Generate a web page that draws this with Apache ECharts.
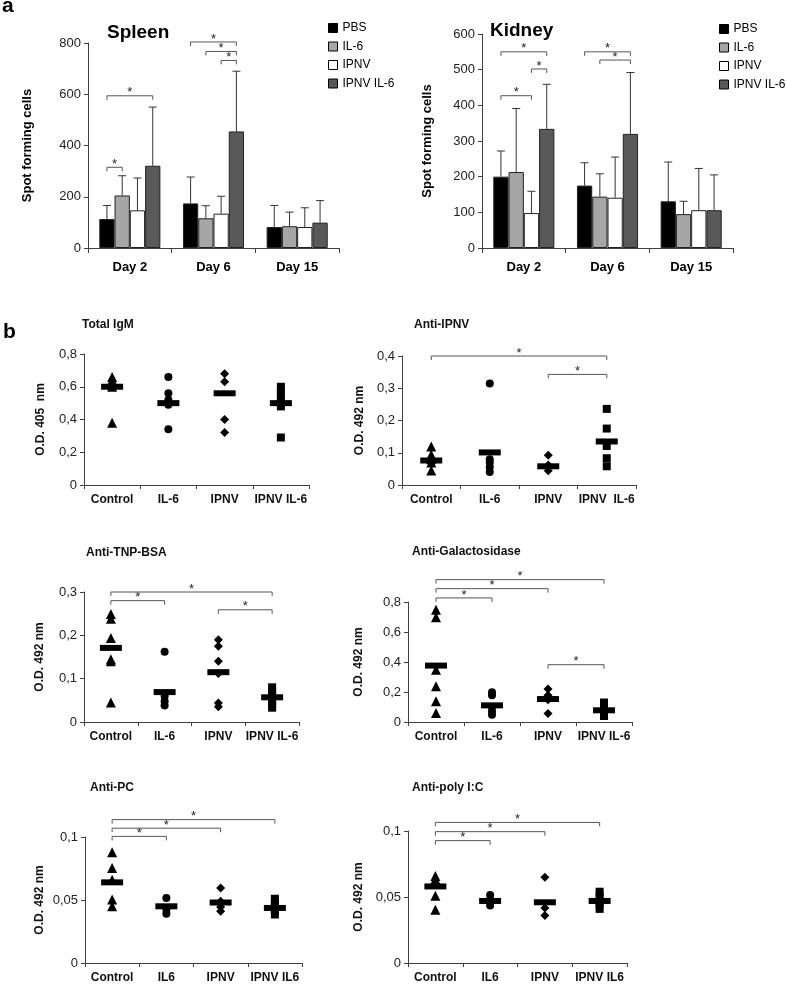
<!DOCTYPE html>
<html><head><meta charset="utf-8">
<script src="https://cdn.jsdelivr.net/npm/echarts@6/dist/echarts.min.js"></script>
<style>html,body{margin:0;padding:0;background:#fff}#c{width:787px;height:985px}</style>
</head><body><div id="c"></div>
<script>
// ---------- Panel a data ----------
const days = ['Day 2', 'Day 6', 'Day 15'];
const groupNames = ['PBS', 'IL-6', 'IPNV', 'IPNV IL-6'];
const spleenTicks = [0, 200, 400, 600, 800];
const kidneyTicks = [0, 100, 200, 300, 400, 500, 600];

const spleenPBS = [113, 174, 82];
const spleenIL6 = [205, 116, 85];
const spleenIPNV = [147, 134, 82];
const spleenIPNVIL6 = [321, 455, 99];
const spleenPBSErr = [166, 277, 166];
const spleenIL6Err = [282, 165, 140];
const spleenIPNVErr = [273, 202, 157];
const spleenIPNVIL6Err = [550, 690, 185];
// [day, group1, group2, height]
const spleenSig = [[0, 0, 1, 315], [0, 0, 3, 594], [1, 0, 3, 804], [1, 1, 3, 767], [1, 2, 3, 732]];

const kidneyPBS = [200, 175, 131];
const kidneyIL6 = [213, 144, 95];
const kidneyIPNV = [98, 141, 106];
const kidneyIPNVIL6 = [334, 320, 106];
const kidneyPBSErr = [272, 239, 241];
const kidneyIL6Err = [391, 208, 131];
const kidneyIPNVErr = [159, 255, 223];
const kidneyIPNVIL6Err = [459, 492, 205];
const kidneySig = [[0, 0, 3, 550], [0, 2, 3, 502], [0, 0, 2, 427], [1, 0, 3, 550], [1, 1, 3, 527]];

// ---------- Panel b data ----------
const catsB = ['Control', 'IL-6', 'IPNV', 'IPNV IL-6'];
const catsB2 = ['Control', 'IL-6', 'IPNV', 'IPNV  IL-6'];
const catsB3 = ['Control', 'IL6', 'IPNV', 'IPNV IL6'];

const igmControl = [0.66, 0.64, 0.60, 0.38];
const igmIL6 = [0.66, 0.56, 0.52, 0.49, 0.34];
const igmIPNV = [0.68, 0.63, 0.40, 0.32];
const igmIPNVIL6 = [0.60, 0.57, 0.54, 0.50, 0.48, 0.29];
const igmMean = [0.60, 0.50, 0.56, 0.50];
const igmSig = [];

const ipnvControl = [0.119, 0.094, 0.08, 0.07, 0.045];
const ipnvIL6 = [0.315, 0.08, 0.07, 0.055, 0.04];
const ipnvIPNV = [0.092, 0.062, 0.055, 0.044];
const ipnvIPNVIL6 = [0.236, 0.175, 0.121, 0.083, 0.058];
const ipnvMean = [0.076, 0.101, 0.058, 0.135];
const ipnvSig = [[0, 3, 0.4], [2, 3, 0.343]];

const tnpControl = [0.249, 0.238, 0.194, 0.145, 0.14, 0.045];
const tnpIL6 = [0.162, 0.06, 0.048, 0.038];
const tnpIPNV = [0.19, 0.175, 0.14, 0.112, 0.044, 0.035];
const tnpIPNVIL6 = [0.08, 0.07, 0.06, 0.05, 0.04, 0.033];
const tnpMean = [0.171, 0.069, 0.115, 0.057];
const tnpSig = [[0, 3, 0.30], [0, 1, 0.28], [2, 3, 0.259]];

const galControl = [0.749, 0.698, 0.349, 0.238, 0.138, 0.06];
const galIL6 = [0.198, 0.178, 0.10, 0.071, 0.049];
const galIPNV = [0.22, 0.178, 0.149, 0.056];
const galIPNVIL6 = [0.13, 0.11, 0.09, 0.07, 0.05, 0.04];
const galMean = [0.376, 0.111, 0.153, 0.078];
const galSig = [[0, 3, 0.949], [0, 2, 0.889], [0, 1, 0.827], [2, 3, 0.382]];

const pcControl = [0.0878, 0.0754, 0.066, 0.0503, 0.045];
const pcIL6 = [0.0516, 0.0423, 0.039];
const pcIPNV = [0.0595, 0.049, 0.0444, 0.041];
const pcIPNVIL6 = [0.051, 0.048, 0.045, 0.042, 0.0385];
const pcMean = [0.064, 0.045, 0.048, 0.0437];
const pcSig = [[0, 3, 0.1138], [0, 2, 0.107], [0, 1, 0.1005]];

const polyControl = [0.066, 0.0635, 0.051, 0.0403];
const polyIL6 = [0.0516, 0.048, 0.0436];
const polyIPNV = [0.065, 0.0416, 0.036];
const polyIPNVIL6 = [0.054, 0.051, 0.047, 0.044, 0.041];
const polyMean = [0.058, 0.047, 0.046, 0.047];
const polySig = [[0, 3, 0.1065], [0, 2, 0.0995], [0, 1, 0.0927]];

// ---------- build ----------
const FONT = '"Liberation Sans", Arial, sans-serif';
const AX = '#404040';
const GAP = 0.27;
const barColors = ['#000000', '#a6a6a6', '#ffffff', '#595959'];

function barX(api, cat, s) {
  const band = api.size([1, 0])[0];
  const gw = band * (1 - GAP);
  const c = api.coord([cat, 0])[0];
  return c - gw / 2 + gw / 4 * (s + 0.5);
}
function errRender(params, api) {
  const cat = api.value(0), s = api.value(1), mean = api.value(2), top = api.value(3);
  const x = barX(api, cat, s);
  const y0 = api.coord([cat, mean])[1];
  const y1 = api.coord([cat, top])[1];
  return {type: 'group', children: [
    {type: 'line', shape: {x1: x, y1: y0, x2: x, y2: y1}, style: {stroke: '#333', lineWidth: 1}},
    {type: 'line', shape: {x1: x - 4, y1: y1, x2: x + 4, y2: y1}, style: {stroke: '#333', lineWidth: 1}}
  ]};
}
function bracketShapes(x1, x2, py) {
  return [
    {type: 'polyline', shape: {points: [[x1, py + 4], [x1, py], [x2, py], [x2, py + 4]]}, style: {stroke: '#555', lineWidth: 1, fill: null}},
    {type: 'text', x: (x1 + x2) / 2, y: py - 3, style: {text: '*', fontSize: 13, fontFamily: FONT, fill: '#222', align: 'center', verticalAlign: 'middle'}}
  ];
}
function sigBarRender(params, api) {
  const c = api.value(0), s1 = api.value(1), s2 = api.value(2), v = api.value(3);
  const py = api.coord([c, v])[1];
  return {type: 'group', children: bracketShapes(barX(api, c, s1), barX(api, c, s2), py)};
}
function sigCatRender(params, api) {
  const c1 = api.value(0), c2 = api.value(1), v = api.value(2);
  const p1 = api.coord([c1, v]), p2 = api.coord([c2, v]);
  return {type: 'group', children: bracketShapes(p1[0], p2[0], p1[1])};
}
function fmtComma(v) { return v === 0 ? '0' : String(+v.toFixed(3)).replace('.', ','); }

const option = {
  animation: false,
  backgroundColor: '#fff',
  textStyle: {fontFamily: FONT},
  title: [], legend: [], grid: [], xAxis: [], yAxis: [], series: []
};
option.title.push({text: 'a', left: 2, top: -4, padding: 0, textStyle: {fontSize: 21, fontWeight: 'bold', color: '#000', fontFamily: FONT}});
option.title.push({text: 'b', left: 3, top: 322, padding: 0, textStyle: {fontSize: 21, fontWeight: 'bold', color: '#000', fontFamily: FONT}});

const panelsA = [
  {title: 'Spleen', tl: 107, tt: 23, grid: {left: 88, top: 43, width: 251, height: 205}, max: 800, ticks: spleenTicks, gap: 54,
   vals: [spleenPBS, spleenIL6, spleenIPNV, spleenIPNVIL6], errs: [spleenPBSErr, spleenIL6Err, spleenIPNVErr, spleenIPNVIL6Err], sig: spleenSig, lg: [328, 22]},
  {title: 'Kidney', tl: 490, tt: 21, grid: {left: 482, top: 34, width: 251, height: 214}, max: 600, ticks: kidneyTicks, gap: 48,
   vals: [kidneyPBS, kidneyIL6, kidneyIPNV, kidneyIPNVIL6], errs: [kidneyPBSErr, kidneyIL6Err, kidneyIPNVErr, kidneyIPNVIL6Err], sig: kidneySig, lg: [719, 23]}
];
panelsA.forEach((p, k) => {
  option.title.push({text: p.title, left: p.tl, top: p.tt, padding: 0, textStyle: {fontSize: 19, fontWeight: 'bold', color: '#000', fontFamily: FONT}});
  option.grid.push(Object.assign({outerBoundsMode: 'none', containLabel: false}, p.grid));
  const gi = option.grid.length - 1;
  option.xAxis.push({gridIndex: gi, type: 'category', data: days, boundaryGap: true,
    axisLine: {lineStyle: {color: AX}}, axisTick: {show: true, length: 5, lineStyle: {color: AX}},
    axisLabel: {fontSize: 13, fontWeight: 'bold', color: '#000', margin: 13}, splitLine: {show: false}});
  option.yAxis.push({gridIndex: gi, type: 'value', min: p.ticks[0], max: p.ticks[p.ticks.length - 1], interval: p.ticks[1] - p.ticks[0],
    name: 'Spot forming cells', nameLocation: 'middle', nameGap: p.gap, nameTextStyle: {fontSize: 13, fontWeight: 'bold', color: '#000'},
    axisLine: {show: true, lineStyle: {color: AX}}, axisTick: {show: true, length: 4, lineStyle: {color: AX}},
    axisLabel: {fontSize: 13, color: '#222', margin: 7}, splitLine: {show: false}});
  groupNames.forEach((g, s) => {
    option.series.push({type: 'bar', name: g, xAxisIndex: gi, yAxisIndex: gi, data: p.vals[s],
      barGap: '0%', barCategoryGap: (GAP * 100) + '%',
      itemStyle: {color: barColors[s], borderColor: '#222', borderWidth: 1}});
  });
  const errData = [];
  p.errs.forEach((arr, s) => arr.forEach((t, c) => errData.push([c, s, p.vals[s][c], t])));
  option.series.push({type: 'custom', xAxisIndex: gi, yAxisIndex: gi, renderItem: errRender, data: errData, encode: {x: 0, y: 3}, z: 5, clip: false, silent: true});
  option.series.push({type: 'custom', xAxisIndex: gi, yAxisIndex: gi, renderItem: sigBarRender, data: p.sig, encode: {x: 0, y: 3}, z: 5, clip: false, silent: true});
  option.legend.push({left: p.lg[0], top: p.lg[1], padding: 0, orient: 'vertical', icon: 'rect', itemWidth: 9, itemHeight: 9, itemGap: 6.5,
    data: groupNames, selectedMode: false, textStyle: {fontSize: 12, color: '#000', fontFamily: FONT, overflow: 'none'},
    itemStyle: {borderColor: '#000', borderWidth: 1}});
});

const symbols = ['triangle', 'circle', 'diamond', 'rect'];
const symSizes = [10, 8, 9, 8];
const panelsB = [
  {title: 'Total IgM', tl: 82, tt: 319, grid: {left: 84, top: 354, width: 225, height: 131}, ticks: [0, 0.2, 0.4, 0.6, 0.8], yName: 'O.D. 405  nm', gap: 37,
   cats: catsB, pts: [igmControl, igmIL6, igmIPNV, igmIPNVIL6], mean: igmMean, sig: igmSig},
  {title: 'Anti-IPNV', tl: 414, tt: 319, grid: {left: 402, top: 356, width: 234, height: 129}, ticks: [0, 0.1, 0.2, 0.3, 0.4], yName: 'O.D. 492 nm', gap: 36,
   cats: catsB2, pts: [ipnvControl, ipnvIL6, ipnvIPNV, ipnvIPNVIL6], mean: ipnvMean, sig: ipnvSig},
  {title: 'Anti-TNP-BSA', tl: 86, tt: 547, grid: {left: 84, top: 592, width: 215, height: 130}, ticks: [0, 0.1, 0.2, 0.3], yName: 'O.D. 492 nm', gap: 38,
   cats: catsB, pts: [tnpControl, tnpIL6, tnpIPNV, tnpIPNVIL6], mean: tnpMean, sig: tnpSig},
  {title: 'Anti-Galactosidase', tl: 412, tt: 546, grid: {left: 408, top: 602, width: 224, height: 120}, ticks: [0, 0.2, 0.4, 0.6, 0.8], yName: 'O.D. 492 nm', gap: 43,
   cats: catsB, pts: [galControl, galIL6, galIPNV, galIPNVIL6], mean: galMean, sig: galSig},
  {title: 'Anti-PC', tl: 90, tt: 782, grid: {left: 85, top: 837, width: 217, height: 126}, ticks: [0, 0.05, 0.1], yName: 'O.D. 492 nm', gap: 39,
   cats: catsB3, pts: [pcControl, pcIL6, pcIPNV, pcIPNVIL6], mean: pcMean, sig: pcSig},
  {title: 'Anti-poly I:C', tl: 412, tt: 782, grid: {left: 408, top: 831, width: 219, height: 132}, ticks: [0, 0.05, 0.1], yName: 'O.D. 492 nm', gap: 43,
   cats: catsB3, pts: [polyControl, polyIL6, polyIPNV, polyIPNVIL6], mean: polyMean, sig: polySig}
];
panelsB.forEach(p => {
  option.title.push({text: p.title, left: p.tl, top: p.tt, padding: 0, textStyle: {fontSize: 12, fontWeight: 'bold', color: '#111', fontFamily: FONT}});
  option.grid.push(Object.assign({outerBoundsMode: 'none', containLabel: false}, p.grid));
  const gi = option.grid.length - 1;
  option.xAxis.push({gridIndex: gi, type: 'category', data: p.cats, boundaryGap: true,
    axisLine: {lineStyle: {color: AX}}, axisTick: {show: true, length: 4, lineStyle: {color: AX}},
    axisLabel: {fontSize: 12, fontWeight: 'bold', color: '#111', margin: 9, interval: 0}, splitLine: {show: false}});
  option.yAxis.push({gridIndex: gi, type: 'value', min: p.ticks[0], max: p.ticks[p.ticks.length - 1], interval: p.ticks[1] - p.ticks[0],
    name: p.yName, nameLocation: 'middle', nameGap: p.gap, nameTextStyle: {fontSize: 12, fontWeight: 'bold', color: '#111'},
    axisLine: {show: true, lineStyle: {color: AX}}, axisTick: {show: true, length: 4, lineStyle: {color: AX}},
    axisLabel: {fontSize: 13, color: '#222', margin: 7, formatter: fmtComma}, splitLine: {show: false}});
  p.pts.forEach((arr, s) => {
    option.series.push({type: 'scatter', xAxisIndex: gi, yAxisIndex: gi, symbol: symbols[s], symbolSize: symSizes[s],
      itemStyle: {color: '#000', opacity: 1}, data: arr.map(v => [s, v]), z: 2, silent: true});
  });
  option.series.push({type: 'scatter', xAxisIndex: gi, yAxisIndex: gi, symbol: 'rect', symbolSize: [22, 6],
    itemStyle: {color: '#000', opacity: 1}, data: p.mean.map((v, i) => [i, v]), z: 3, silent: true});
  if (p.sig.length) {
    option.series.push({type: 'custom', xAxisIndex: gi, yAxisIndex: gi, renderItem: sigCatRender, data: p.sig, encode: {x: 0, y: 2}, z: 5, clip: false, silent: true});
  }
});

const chart = echarts.init(document.getElementById('c'), null, {renderer: 'canvas'});
chart.setOption(option);
</script>
</body></html>
